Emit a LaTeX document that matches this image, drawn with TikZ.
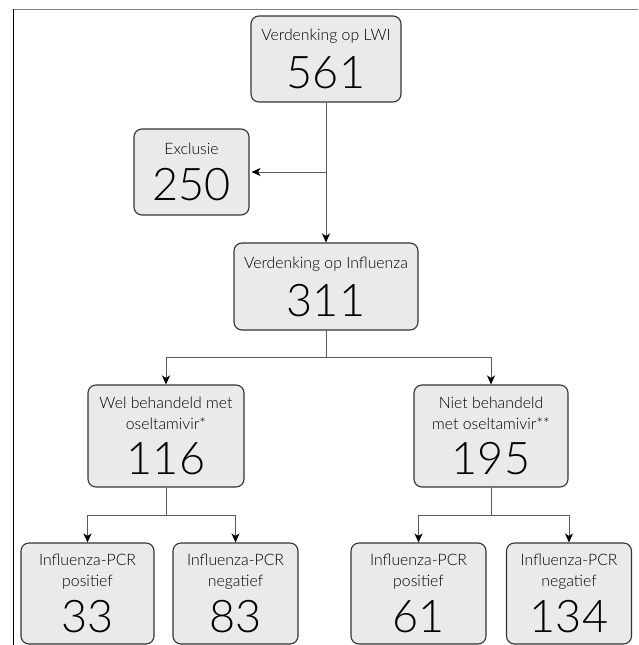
\documentclass[tikz,border=0pt]{standalone}
\usepackage{fontspec}
\IfFontExistsTF{Lato Light}{\setmainfont{Lato Light}}{\setmainfont{TeX Gyre Heros}}
\usetikzlibrary{arrows.meta}

\definecolor{boxfill}{HTML}{EAEAEA}
\definecolor{boxline}{HTML}{333333}
\definecolor{connline}{HTML}{5A5A5A}
\tikzset{
  stepbox/.style={draw=boxline, fill=boxfill, rounded corners=8pt, line width=1.1pt,
    inner sep=0pt, align=center, font=\fontsize{15.8}{21}\selectfont},
  flow/.style={draw=connline, line width=1pt,
    -{Stealth[black, length=9pt, width=8pt, inset=2.5pt]}},
}
\newcommand\bignum[1]{\fontsize{45}{45}\selectfont #1}

\begin{document}
\begin{tikzpicture}[x=1pt, y=-1pt]
  \useasboundingbox (0,0) rectangle (638,645);
  \draw[gray, line width=1pt] (13,9) -- (638,9);
  \draw[black, line width=1pt] (13,9) -- (13,645);

  % top of the chart
  \node[stepbox, minimum width=150pt, minimum height=86pt] (lwi) at (326,59) {Verdenking op LWI\\[12pt]\bignum{561}};
  \node[stepbox, minimum width=115pt, minimum height=86pt] (excl) at (191.5,172) {Exclusie\\[12pt]\bignum{250}};
  \node[stepbox, minimum width=184pt, minimum height=87pt] (infl) at (326,286.5) {Verdenking op Influenza\\[12pt]\bignum{311}};

  % treated or not
  \node[stepbox, minimum width=156pt, minimum height=102pt] (wel) at (166,436) {Wel behandeld met\\oseltamivir*\\[12pt]\bignum{116}};
  \node[stepbox, minimum width=154pt, minimum height=102pt] (niet) at (491,436) {Niet behandeld\\met oseltamivir**\\[12pt]\bignum{195}};

  % PCR results
  \node[stepbox, minimum width=133pt, minimum height=101pt] (wpos) at (87.5,593.5) {Influenza-PCR\\positief\\[10pt]\bignum{33}};
  \node[stepbox, minimum width=125pt, minimum height=101pt] (wneg) at (235.5,593.5) {Influenza-PCR\\negatief\\[10pt]\bignum{83}};
  \node[stepbox, minimum width=135pt, minimum height=101pt] (npos) at (418.5,593.5) {Influenza-PCR\\positief\\[10pt]\bignum{61}};
  \node[stepbox, minimum width=125pt, minimum height=101pt] (nneg) at (569,593.5) {Influenza-PCR\\negatief\\[10pt]\bignum{134}};

  \coordinate (split) at (lwi.south |- excl.east);
  \draw[flow] (lwi.south) -- (infl.north);
  \draw[flow, shorten >=2pt] (split) -- (excl.east);
  \draw[flow] (infl.south) -- ++(0,27) -| (wel.north);
  \draw[flow] (infl.south) -- ++(0,27) -| (niet.north);
  \foreach \p/\c in {wel/wpos, wel/wneg, niet/npos, niet/nneg}
    \draw[flow] (\p.south) -- ++(0,28) -| (\c.north);
\end{tikzpicture}
\end{document}
